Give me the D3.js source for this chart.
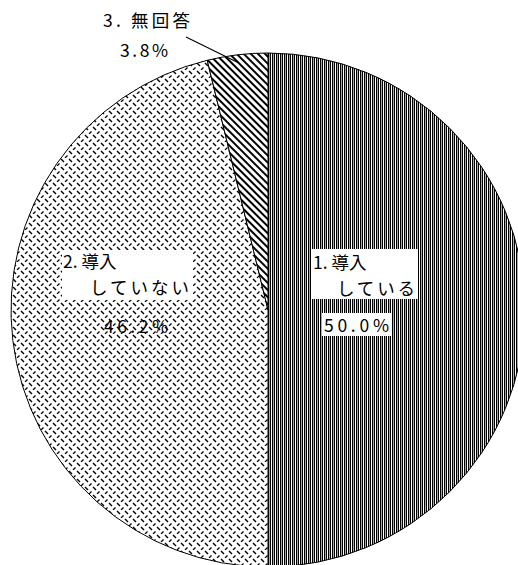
<!DOCTYPE html>
<html>
<head>
<meta charset="utf-8">
<script src="https://cdn.jsdelivr.net/npm/d3@7"></script>
<style>
  body { margin: 0; background: #fff; }
  text { font-family: "Noto Sans CJK JP", sans-serif; font-size: 17.5px; fill: #000; }
</style>
</head>
<body>
<div id="chart"></div>
<script>
// data
var g_names = ["1. 導入している", "2. 導入していない", "3. 無回答"];
var g_values = [50.0, 46.2, 3.8];
var g_label_lines = [["1. 導入", "している"], ["2. 導入", "していない"], ["3. 無回答"]];
var g_pct_text = ["50.0%", "46.2%", "3.8%"];

var W = 518, H = 565;
var cx = 268, cy = 310, r = 257;

var g_svg = d3.select("#chart")
  .append("svg")
    .attr("width", W)
    .attr("height", H);

//----------------------------------------------------------
// fill patterns
var defs = g_svg.append("defs");

var p1 = defs.append("pattern")
    .attr("id", "pat-vert")
    .attr("patternUnits", "userSpaceOnUse")
    .attr("width", 4).attr("height", 4);
p1.append("rect").attr("width", 4).attr("height", 4).attr("fill", "#fff");
p1.append("rect").attr("x", 0).attr("width", 1).attr("height", 4).attr("fill", "#000");
p1.append("rect").attr("x", 1).attr("width", 1).attr("height", 4).attr("fill", "#aaa");
p1.append("rect").attr("x", 2).attr("width", 1).attr("height", 4).attr("fill", "#000");

var p2 = defs.append("pattern")
    .attr("id", "pat-divot")
    .attr("patternUnits", "userSpaceOnUse")
    .attr("width", 8).attr("height", 8);
p2.append("rect").attr("width", 8).attr("height", 8).attr("fill", "#fff");
p2.append("path").attr("d", "M1,1 L4,4").attr("stroke", "#000").attr("stroke-width", 1.4);
p2.append("path").attr("d", "M5,8 L7.5,5.5").attr("stroke", "#000").attr("stroke-width", 1.2);

var p3 = defs.append("pattern")
    .attr("id", "pat-diag")
    .attr("patternUnits", "userSpaceOnUse")
    .attr("width", 5).attr("height", 5)
    .attr("patternTransform", "rotate(45)");
p3.append("rect").attr("width", 5).attr("height", 5).attr("fill", "#fff");
p3.append("rect").attr("width", 5).attr("height", 2).attr("fill", "#000");

var g_fills = ["url(#pat-vert)", "url(#pat-divot)", "url(#pat-diag)"];

//----------------------------------------------------------
// pie
var pie = d3.pie().sort(null).value(function (d) { return d; });
var arc = d3.arc().innerRadius(0).outerRadius(r);
var arcs = pie(g_values);

var g_pie = g_svg.append("g")
    .attr("transform", "translate(" + cx + "," + cy + ")");

g_pie.selectAll("path")
  .data(arcs)
  .join("path")
    .attr("d", arc)
    .attr("fill", function (d, i) { return g_fills[i]; })
    .attr("stroke", "#000")
    .attr("stroke-width", 1);

//----------------------------------------------------------
// labels
var g_labels = g_svg.append("g");

// white boxes behind inner labels
var boxes = [
    { x: 312, y: 249, w: 106, h: 50 },
    { x: 322, y: 313, w: 69, h: 23 },
    { x: 62, y: 250, w: 131, h: 50 }
];
g_labels.selectAll("rect")
  .data(boxes)
  .join("rect")
    .attr("x", function (d) { return d.x; })
    .attr("y", function (d) { return d.y; })
    .attr("width", function (d) { return d.w; })
    .attr("height", function (d) { return d.h; })
    .attr("fill", "#fff");

// two-line label as one text element
function AddLabel(lines, x, y, indent, width2) {
    var t = g_labels.append("text").attr("x", x).attr("y", y);
    t.selectAll("tspan")
      .data(lines)
      .join("tspan")
        .attr("x", function (d, i) { return i > 0 ? x + indent : x; })
        .attr("dy", function (d, i) { return i > 0 ? 25.5 : 0; })
        .attr("textLength", function (d, i) { return i > 0 ? width2 : null; })
        .attr("lengthAdjust", "spacing")
        .text(function (d) { return d; });
    return t;
}

function AddText(str, x, y, width) {
    var t = g_labels.append("text")
        .attr("x", x)
        .attr("y", y)
        .text(str);
    if (width) {
        t.attr("textLength", width).attr("lengthAdjust", "spacing");
    }
    return t;
}

// slice 1
AddLabel(g_label_lines[0], 313, 269, 24, 78);
AddText(g_pct_text[0], 324, 332, 65);

// slice 2
AddLabel(g_label_lines[1], 63, 268, 27, 99);
AddText(g_pct_text[1], 104, 333, 64);

// slice 3 (outside, with leader line)
AddText(g_label_lines[2][0], 103, 27, 87);
AddText(g_pct_text[2], 120, 57, 48);

var a3 = arcs[2];
var mid3 = (a3.startAngle + a3.endAngle) / 2;
var rr = r - 8;
g_labels.append("line")
    .attr("x1", 186).attr("y1", 37)
    .attr("x2", cx + Math.sin(mid3) * rr)
    .attr("y2", cy - Math.cos(mid3) * rr)
    .attr("stroke", "#000")
    .attr("stroke-width", 1.2);
</script>
</body>
</html>
